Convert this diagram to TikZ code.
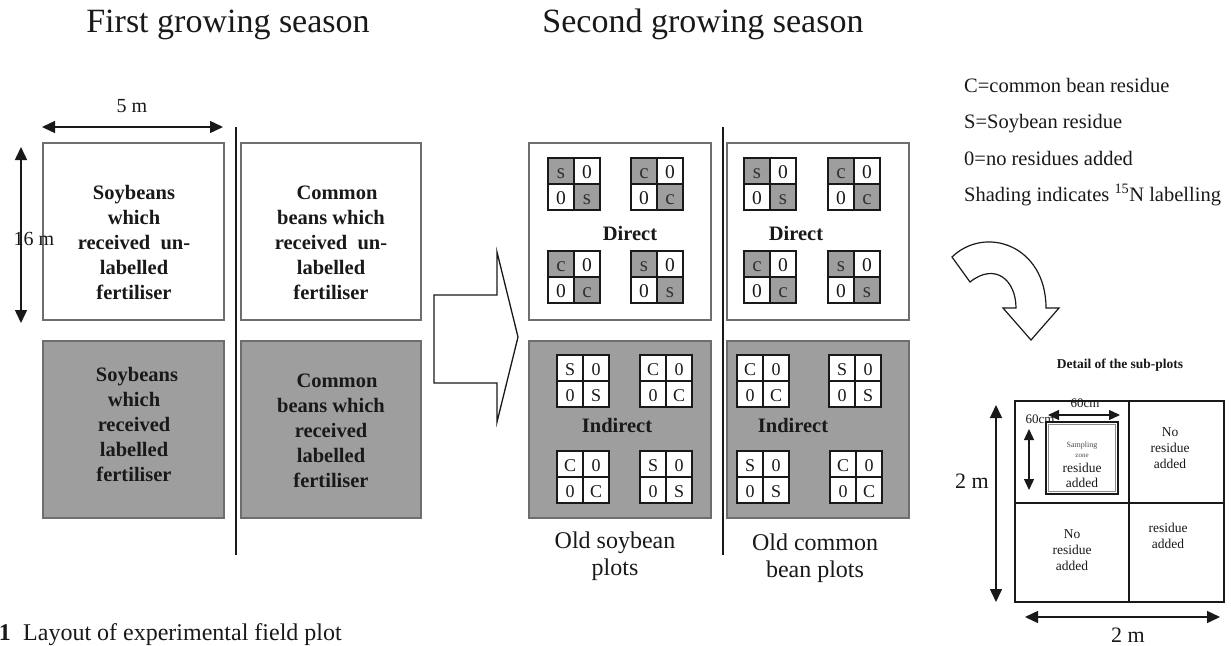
\documentclass[tikz,border=0pt]{standalone}
\usepackage{fontspec}
\setmainfont{Liberation Serif}
\usetikzlibrary{arrows.meta}
\definecolor{plotgray}{RGB}{158,158,158}
\definecolor{boxedge}{RGB}{110,110,110}
\definecolor{ink}{RGB}{25,25,25}
\newcommand\fsz[2]{\fontsize{#1}{#2}\selectfont}
\newcommand\directgrid[4]{%
  \fill[plotgray] (#2,#3) rectangle ++(26,26);
  \fill[plotgray] ({#2+26},{#3+26}) rectangle ++(26,26);
  \draw[gridline] (#2,#3) rectangle ++(52,52);
  \draw[gridline] ({#2+26},#3) -- ++(0,52);
  \draw[gridline] (#2,{#3+26}) -- ++(52,0);
  \node[dcell,font=\fsz{21}{20},text=black!80] (#1-a) at ({#2+13},{#3+20}) {#4};
  \node[dcell] (#1-b) at ({#2+39},{#3+20}) {0};
  \node[dcell] (#1-c) at ({#2+13},{#3+46}) {0};
  \node[dcell,font=\fsz{21}{20},text=black!80] (#1-d) at ({#2+39},{#3+46}) {#4};
}
\newcommand\indirectgrid[4]{%
  \fill[white] (#2,#3) rectangle ++(52,52);
  \draw[gridline] (#2,#3) rectangle ++(52,52);
  \draw[gridline] ({#2+26},#3) -- ++(0,52);
  \draw[gridline] (#2,{#3+26}) -- ++(52,0);
  \node[icell] (#1-a) at ({#2+13},{#3+20}) {#4};
  \node[icell] (#1-b) at ({#2+39},{#3+20}) {0};
  \node[icell] (#1-c) at ({#2+13},{#3+46}) {0};
  \node[icell] (#1-d) at ({#2+39},{#3+46}) {#4};
}
\begin{document}
\begin{tikzpicture}[x=1pt,y=-1pt,
  gridline/.style={draw=ink,line width=1.3pt},
  dcell/.style={anchor=base,inner sep=0pt,font=\fsz{19.5}{20},text=ink},
  icell/.style={anchor=base,inner sep=0pt,font=\fsz{18}{20},text=ink},
  plotbox/.style={draw=boxedge,line width=1.8pt},
  boxtext/.style={anchor=base,inner sep=0pt,font=\fsz{20.5}{25}\bfseries,text=ink},
  titletext/.style={anchor=base,inner sep=0pt,font=\fsz{34}{34},text=ink},
  plain/.style={anchor=base,inner sep=0pt,font=\fsz{20.5}{24},text=ink},
  small/.style={anchor=base,inner sep=0pt,font=\fsz{13.5}{16},text=ink},
  divider/.style={draw=ink,line width=1.3pt},
  dimarrow/.style={draw=ink,line width=1.5pt,{Triangle[length=13pt,width=12pt]}-{Triangle[length=13pt,width=12pt]}},
  smallarrow/.style={draw=ink,line width=1.3pt,{Triangle[length=11pt,width=10pt]}-{Triangle[length=11pt,width=10pt]}},
  ]
\useasboundingbox (0,0) rectangle (1231,645);
\fill[white] (0,0) rectangle (1231,645);

% titles
\node[titletext] (title1) at (228,32) {First growing season};
\node[titletext] (title2) at (703,32) {Second growing season};

% ---------- first season ----------
\coordinate (div1t) at (236,127);
\coordinate (div1b) at (236,555);
\draw[divider] (div1t) -- (div1b);

\draw[plotbox,fill=white] (43,143) rectangle (224,320);
\draw[plotbox,fill=white] (241,143) rectangle (421,320);
\draw[plotbox,fill=plotgray] (43,341) rectangle (224,518);
\draw[plotbox,fill=plotgray] (241,341) rectangle (421,518);

\coordinate (w5l) at (42,127);
\coordinate (w5r) at (223,127);
\draw[dimarrow] (w5l) -- (w5r);
\node[plain,font=\fsz{20}{24}] (lab5m) at (132,112) {5 m};
\node[plain,font=\fsz{20}{24}] (lab16m) at (34,245) {16 m};
\coordinate (h16t) at (21,147);
\coordinate (h16b) at (21,323);
\draw[dimarrow] (h16t) -- (h16b);

\node[boxtext] (txt1) at (134,199) {\begin{tabular}[t]{@{}c@{}}Soybeans\\ which\\ received\ \ un-\\ labelled\\ fertiliser\end{tabular}};
\node[boxtext] (txt2) at (331,199) {\begin{tabular}[t]{@{}c@{}}\hspace{12pt}Common\\ beans which\\ received\ \ un-\\ labelled\\ fertiliser\end{tabular}};
\node[boxtext] (txt3) at (134,381) {\begin{tabular}[t]{@{}c@{}}\hspace{6pt}Soybeans\\ which\\ received\\ labelled\\ fertiliser\end{tabular}};
\node[boxtext] (txt4) at (331,387) {\begin{tabular}[t]{@{}c@{}}\hspace{12pt}Common\\ beans which\\ received\\ labelled\\ fertiliser\end{tabular}};

% big block arrow
\draw[draw=ink,line width=1.3pt,fill=white,line join=miter]
  (434,295) -- (497,295) -- (497,252) -- (518,337) -- (497,422) -- (497,383) -- (434,383) -- cycle;

% ---------- second season ----------
\coordinate (div2t) at (723,127);
\coordinate (div2b) at (723,555);
\draw[divider] (div2t) -- (div2b);

\draw[plotbox,fill=white] (529,143) rectangle (711,320);
\draw[plotbox,fill=white] (727,143) rectangle (909,320);
\draw[plotbox,fill=plotgray] (529,341) rectangle (711,518);
\draw[plotbox,fill=plotgray] (727,341) rectangle (909,518);

\directgrid{dl1}{548}{158}{s}
\directgrid{dl2}{631}{158}{c}
\directgrid{dl3}{548}{251}{c}
\directgrid{dl4}{631}{251}{s}
\directgrid{dr1}{744}{158}{s}
\directgrid{dr2}{828}{158}{c}
\directgrid{dr3}{744}{251}{c}
\directgrid{dr4}{828}{251}{s}

\indirectgrid{il1}{557}{355}{S}
\indirectgrid{il2}{640}{355}{C}
\indirectgrid{il3}{557}{451}{C}
\indirectgrid{il4}{640}{451}{S}
\indirectgrid{ir1}{737}{355}{C}
\indirectgrid{ir2}{829}{355}{S}
\indirectgrid{ir3}{737}{451}{S}
\indirectgrid{ir4}{830}{451}{C}

\node[plain,font=\fsz{20.5}{24}\bfseries] (dirL) at (630,240) {Direct};
\node[plain,font=\fsz{20.5}{24}\bfseries] (dirR) at (796,240) {Direct};
\node[plain,font=\fsz{20.5}{24}\bfseries] (indL) at (617,432) {Indirect};
\node[plain,font=\fsz{20.5}{24}\bfseries] (indR) at (793,432) {Indirect};

\node[plain,font=\fsz{24}{27}] (oldsoy) at (615,548) {\begin{tabular}[t]{@{}c@{}}Old soybean\\ plots\end{tabular}};
\node[plain,font=\fsz{24}{27}] (oldcom) at (815,550) {\begin{tabular}[t]{@{}c@{}}Old common\\ bean plots\end{tabular}};

% ---------- legend ----------
\node[plain,anchor=base west] (legC) at (964,92) {C=common bean residue};
\node[plain,anchor=base west] (legS) at (964,128) {S=Soybean residue};
\node[plain,anchor=base west] (leg0) at (964,165) {0=no residues added};
\node[plain,anchor=base west] (legSh) at (964,201) {Shading indicates \textsuperscript{15}N labelling};

% curved arrow
\draw[draw=ink,line width=1.2pt,fill=white,line join=miter]
  (952,257) .. controls (985,225) and (1046,245) .. (1046,308)
  -- (1059,308) -- (1031,340) -- (1003,308) -- (1016,308)
  .. controls (1016,280) and (995,262) .. (970,282) -- cycle;

% ---------- detail ----------
\node[small,font=\fsz{13.5}{16}\bfseries] (dettitle) at (1120,368) {Detail of the sub-plots};
\draw[draw=ink,line width=1.3pt] (1015,401) rectangle (1224,602);
\draw[draw=ink,line width=1.3pt] (1129,401) -- (1129,602);
\draw[draw=ink,line width=1.3pt] (1015,503) -- (1224,503);
\draw[draw=ink,line width=1.2pt] (1046,422) rectangle (1118,494);
\draw[draw=black!45,line width=0.9pt] (1048.5,424.5) rectangle (1115.5,491.5);

\node[small,font=\fsz{8}{10},text=black!70] (samp) at (1082,447) {Sampling};
\node[small,font=\fsz{7}{10},text=black!70] (zone) at (1082,457) {zone};
\node[small] (sra) at (1082,472) {residue};
\node[small] (sad) at (1082,487) {added};

\node[small] (trq) at (1170,436) {\begin{tabular}[t]{@{}c@{}}No\\ residue\\ added\end{tabular}};
\node[small] (blq) at (1072,538) {\begin{tabular}[t]{@{}c@{}}No\\ residue\\ added\end{tabular}};
\node[small] (brq) at (1168,532) {\begin{tabular}[t]{@{}c@{}}residue\\ added\end{tabular}};

\node[small,font=\fsz{13}{16}] (lab60h) at (1085,407) {60cm};
\node[small,font=\fsz{13}{16}] (lab60v) at (1040,423) {60cm};
\coordinate (h60l) at (1048,415);
\coordinate (h60r) at (1120,415);
\draw[smallarrow] (h60l) -- (h60r);
\coordinate (v60t) at (1029,429);
\coordinate (v60b) at (1029,490);
\draw[smallarrow] (v60t) -- (v60b);

\node[plain,font=\fsz{22}{24}] (lab2mv) at (972,488) {2 m};
\coordinate (v2t) at (996,405);
\coordinate (v2b) at (996,602);
\draw[dimarrow] (v2t) -- (v2b);
\node[plain,font=\fsz{22}{24}] (lab2mh) at (1128,642) {2 m};
\coordinate (h2l) at (1025,617);
\coordinate (h2r) at (1220,617);
\draw[dimarrow] (h2l) -- (h2r);

% caption
\node[plain,anchor=base east,font=\fsz{24}{24}\bfseries] (capnum) at (11,640) {1};
\node[plain,anchor=base west,font=\fsz{24}{24}] (captext) at (23,640) {Layout of experimental field plot};
\end{tikzpicture}
\end{document}
